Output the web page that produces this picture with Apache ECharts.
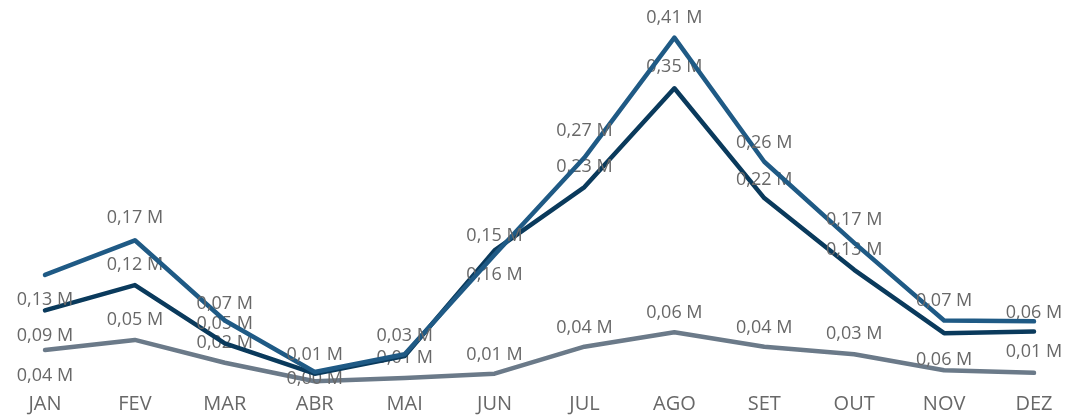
<!DOCTYPE html>
<html>
<head>
<meta charset="utf-8">
<script src="https://cdn.jsdelivr.net/npm/echarts@6/dist/echarts.min.js"></script>
<style>
html,body{margin:0;padding:0;background:#fff;}
#c{width:1066px;height:416px;}
</style>
</head>
<body>
<div id="c"></div>
<script>
const categories = ['JAN','FEV','MAR','ABR','MAI','JUN','JUL','AGO','SET','OUT','NOV','DEZ'];
const seriesTop = [0.128,0.169,0.074,0.013,0.034,0.152,0.267,0.409,0.262,0.166,0.074,0.073];
const seriesMid = [0.086,0.116,0.047,0.011,0.032,0.157,0.232,0.349,0.219,0.134,0.059,0.061];
const seriesLow = [0.039,0.051,0.024,0.002,0.006,0.011,0.043,0.060,0.043,0.034,0.015,0.012];

// label vertical offsets (px) per point; null = label hidden
const labelDyTop = [25,-22,-17,-17,-18,-19,-27,-20,-19,-23,-20,null];
const labelDyMid = [25,-20,-19,null,null,24,-20,-21,-18,-20,27,-19];
const labelDyLow = [26,-20,-20,-2,-20,-19,-19,-19,-19,-20,null,-21];

const fmt = v => v.toFixed(2).replace('.', ',') + ' M';

function build(values, dys) {
  return values.map((v, i) => ({
    value: v,
    label: dys[i] === null ? {show: false} : {show: true, offset: [0, dys[i]]}
  }));
}

function makeSeries(name, values, dys, color, z) {
  return {
    name: name,
    type: 'line',
    data: build(values, dys),
    z: z,
    symbol: 'circle',
    symbolSize: 1,
    showSymbol: true,
    itemStyle: {color: 'rgba(0,0,0,0)', borderWidth: 0},
    lineStyle: {color: color, width: 4.5, cap: 'round', join: 'round'},
    label: {
      show: true,
      position: 'inside',
      align: 'center',
      verticalAlign: 'middle',
      color: '#686868',
      fontFamily: 'Open Sans',
      fontSize: 18,
      formatter: p => fmt(p.value)
    },
    emphasis: {disabled: true},
    animation: false
  };
}

const chart = echarts.init(document.getElementById('c'), null, {renderer: 'canvas'});
chart.setOption({
  animation: false,
  grid: {left: 45, right: 32, top: 3, bottom: 33, containLabel: false},
  xAxis: {
    type: 'category',
    data: categories,
    boundaryGap: false,
    axisLine: {show: false},
    axisTick: {show: false},
    axisLabel: {color: '#686868', fontFamily: 'Open Sans', fontSize: 20, margin: 11, interval: 0}
  },
  yAxis: {
    type: 'value',
    min: 0,
    max: 0.45,
    show: false,
    splitLine: {show: false}
  },
  series: [
    makeSeries('low', seriesLow, labelDyLow, '#6b7a89', 2),
    makeSeries('mid', seriesMid, labelDyMid, '#0a3a5c', 3),
    makeSeries('top', seriesTop, labelDyTop, '#1f5a85', 4)
  ]
});
</script>
</body>
</html>
